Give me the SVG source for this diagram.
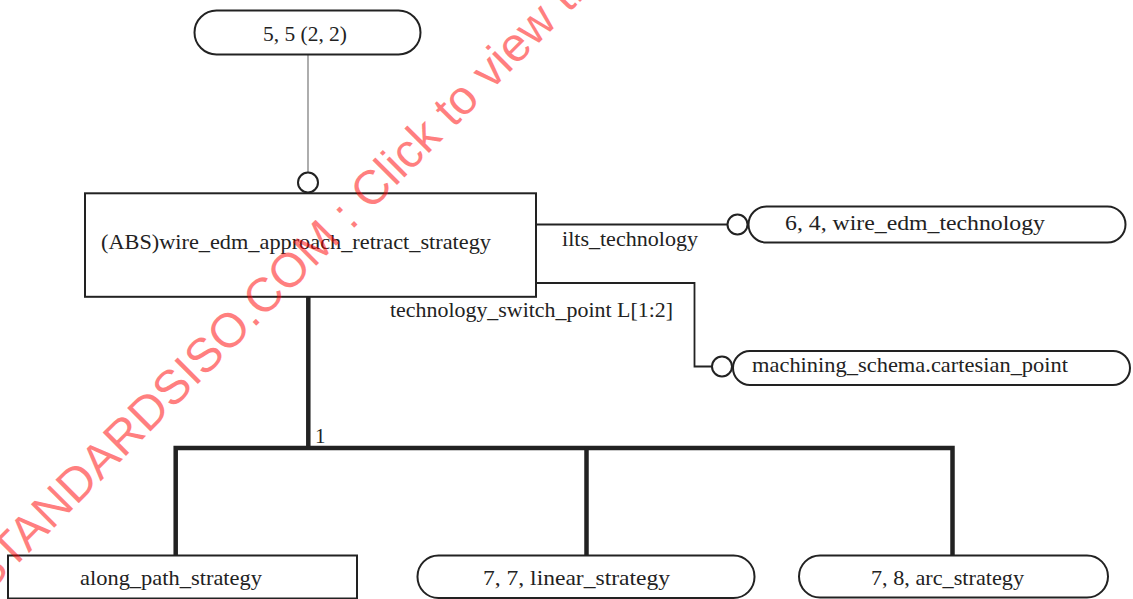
<svg xmlns="http://www.w3.org/2000/svg" width="1133" height="599" viewBox="0 0 1133 599">
<style>
.box{fill:#fff;stroke:#222;stroke-width:2}
.t{font-family:"Liberation Serif","DejaVu Serif",serif;font-size:21px;fill:#222}
.c{text-anchor:middle}
.thin{fill:none;stroke:#222;stroke-width:1.8}
.thick{fill:none;stroke:#222;stroke-width:4.5}
.ring{fill:#fff;stroke:#222;stroke-width:2}
.wm{font-family:"Liberation Sans",Arial,sans-serif;font-size:48px;fill:#ff0000;fill-opacity:0.5}
</style>
<rect width="1133" height="599" fill="#fff"/>
<g id="connectors">
<line x1="308" y1="55" x2="308" y2="172" stroke="#777" stroke-width="1.2"/>
<circle class="ring" cx="308" cy="182.5" r="10"/>
<line class="thin" x1="536" y1="224.5" x2="727" y2="224.5"/>
<circle class="ring" cx="737.5" cy="224.5" r="10"/>
<polyline class="thin" points="536,283 694.5,283 694.5,366.5 712,366.5"/>
<circle class="ring" cx="722" cy="366.5" r="10"/>
<line class="thick" x1="308.3" y1="297" x2="308.3" y2="448"/>
<polyline class="thick" points="175.7,556 175.7,448 952.5,448 952.5,556"/>
<line class="thick" x1="586.5" y1="448" x2="586.5" y2="556"/>
<text class="t" x="562" y="246" textLength="136" lengthAdjust="spacingAndGlyphs">ilts_technology</text>
<text class="t" x="390" y="317" textLength="283" lengthAdjust="spacingAndGlyphs">technology_switch_point L[1:2]</text>
<text class="t" x="315" y="443">1</text>
</g>
<g id="n_top">
<rect class="box" x="194.5" y="10.5" width="226" height="44" rx="22"/>
<text class="t c" x="305" y="41" textLength="84" lengthAdjust="spacingAndGlyphs">5, 5 (2, 2)</text>
</g>
<g id="n_main">
<rect class="box" x="85" y="193.3" width="451" height="103.5"/>
<text class="t" x="101" y="249" textLength="390" lengthAdjust="spacingAndGlyphs">(ABS)wire_edm_approach_retract_strategy</text>
</g>
<g id="n_tech">
<rect class="box" x="748.5" y="206.5" width="377" height="36" rx="18"/>
<text class="t c" x="915" y="230" textLength="260" lengthAdjust="spacingAndGlyphs">6, 4, wire_edm_technology</text>
</g>
<g id="n_point">
<rect class="box" x="733" y="351" width="397" height="34" rx="17"/>
<text class="t" x="752" y="372" textLength="316" lengthAdjust="spacingAndGlyphs">machining_schema.cartesian_point</text>
</g>
<g id="n_along">
<rect class="box" x="8" y="555.5" width="349" height="43"/>
<text class="t c" x="171" y="585" textLength="182" lengthAdjust="spacingAndGlyphs">along_path_strategy</text>
</g>
<g id="n_linear">
<rect class="box" x="417.5" y="555.5" width="337" height="42.5" rx="21"/>
<text class="t c" x="576.5" y="585" textLength="187" lengthAdjust="spacingAndGlyphs">7, 7, linear_strategy</text>
</g>
<g id="n_arc">
<rect class="box" x="799" y="555.5" width="309" height="42" rx="21"/>
<text class="t c" x="947.5" y="585" textLength="153" lengthAdjust="spacingAndGlyphs">7, 8, arc_strategy</text>
</g>
<text class="wm" x="-12" y="594" transform="rotate(-45 -12 594)">STANDARDSISO.COM : Click to view the full PDF</text>
</svg>
